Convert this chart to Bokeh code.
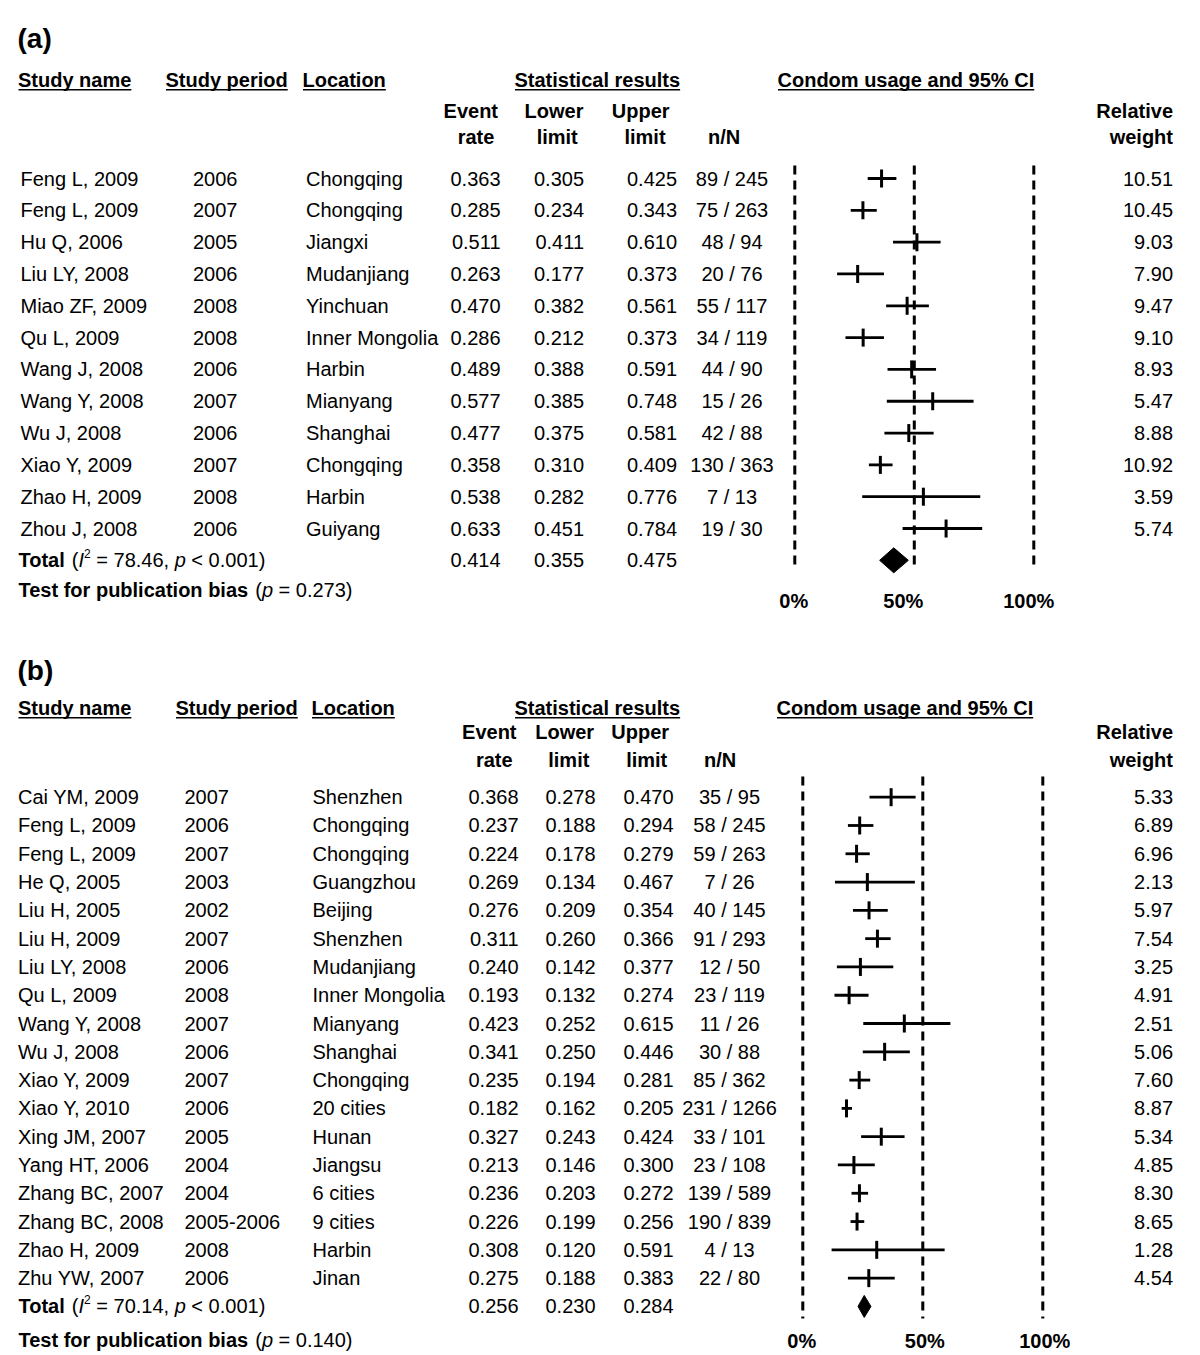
from bokeh.plotting import figure
from bokeh.models import Range1d, ColumnDataSource
from bokeh.embed import file_html
from bokeh.resources import INLINE
from bokeh.core.properties import value

# ---------------- data: panel (a) ----------------
a_names = ["Feng L, 2009", "Feng L, 2009", "Hu Q, 2006", "Liu LY, 2008", "Miao ZF, 2009",
           "Qu L, 2009", "Wang J, 2008", "Wang Y, 2008", "Wu J, 2008", "Xiao Y, 2009",
           "Zhao H, 2009", "Zhou J, 2008"]
a_period = ["2006", "2007", "2005", "2006", "2008", "2008", "2006", "2007", "2006", "2007", "2008", "2006"]
a_location = ["Chongqing", "Chongqing", "Jiangxi", "Mudanjiang", "Yinchuan", "Inner Mongolia",
              "Harbin", "Mianyang", "Shanghai", "Chongqing", "Harbin", "Guiyang"]
a_rate = [0.363, 0.285, 0.511, 0.263, 0.470, 0.286, 0.489, 0.577, 0.477, 0.358, 0.538, 0.633]
a_lower = [0.305, 0.234, 0.411, 0.177, 0.382, 0.212, 0.388, 0.385, 0.375, 0.310, 0.282, 0.451]
a_upper = [0.425, 0.343, 0.610, 0.373, 0.561, 0.373, 0.591, 0.748, 0.581, 0.409, 0.776, 0.784]
a_n = [89, 75, 48, 20, 55, 34, 44, 15, 42, 130, 7, 19]
a_N = [245, 263, 94, 76, 117, 119, 90, 26, 88, 363, 13, 30]
a_weight = [10.51, 10.45, 9.03, 7.90, 9.47, 9.10, 8.93, 5.47, 8.88, 10.92, 3.59, 5.74]
a_total = [0.414, 0.355, 0.475]
a_i2 = "78.46"
a_total_p = "< 0.001"
a_bias_p = "0.273"

# ---------------- data: panel (b) ----------------
b_names = ["Cai YM, 2009", "Feng L, 2009", "Feng L, 2009", "He Q, 2005", "Liu H, 2005", "Liu H, 2009",
           "Liu LY, 2008", "Qu L, 2009", "Wang Y, 2008", "Wu J, 2008", "Xiao Y, 2009", "Xiao Y, 2010",
           "Xing JM, 2007", "Yang HT, 2006", "Zhang BC, 2007", "Zhang BC, 2008", "Zhao H, 2009", "Zhu YW, 2007"]
b_period = ["2007", "2006", "2007", "2003", "2002", "2007", "2006", "2008", "2007", "2006", "2007", "2006",
            "2005", "2004", "2004", "2005-2006", "2008", "2006"]
b_location = ["Shenzhen", "Chongqing", "Chongqing", "Guangzhou", "Beijing", "Shenzhen", "Mudanjiang",
              "Inner Mongolia", "Mianyang", "Shanghai", "Chongqing", "20 cities", "Hunan", "Jiangsu",
              "6 cities", "9 cities", "Harbin", "Jinan"]
b_rate = [0.368, 0.237, 0.224, 0.269, 0.276, 0.311, 0.240, 0.193, 0.423, 0.341, 0.235, 0.182,
          0.327, 0.213, 0.236, 0.226, 0.308, 0.275]
b_lower = [0.278, 0.188, 0.178, 0.134, 0.209, 0.260, 0.142, 0.132, 0.252, 0.250, 0.194, 0.162,
           0.243, 0.146, 0.203, 0.199, 0.120, 0.188]
b_upper = [0.470, 0.294, 0.279, 0.467, 0.354, 0.366, 0.377, 0.274, 0.615, 0.446, 0.281, 0.205,
           0.424, 0.300, 0.272, 0.256, 0.591, 0.383]
b_n = [35, 58, 59, 7, 40, 91, 12, 23, 11, 30, 85, 231, 33, 23, 139, 190, 4, 22]
b_N = [95, 245, 263, 26, 145, 293, 50, 119, 26, 88, 362, 1266, 101, 108, 589, 839, 13, 80]
b_weight = [5.33, 6.89, 6.96, 2.13, 5.97, 7.54, 3.25, 4.91, 2.51, 5.06, 7.60, 8.87, 5.34, 4.85,
            8.30, 8.65, 1.28, 4.54]
b_total = [0.256, 0.230, 0.284]
b_i2 = "70.14"
b_total_p = "< 0.001"
b_bias_p = "0.140"

ref_ticks = [0.0, 0.5, 1.0]

# ---------------- helpers ----------------
FONT = "Liberation Sans"
W_REG = {' ': 278, '(': 333, ')': 333, ',': 278, '.': 278, '=': 584, '<': 584, 'I': 278, 'p': 556}
W_BOLD = {' ': 278, 'T': 611, 'o': 611, 't': 333, 'a': 556, 'l': 278, 'e': 556, 's': 556, 'f': 333,
          'r': 389, 'p': 611, 'u': 611, 'b': 611, 'i': 278, 'c': 556, 'n': 611, 'S': 667, 'd': 611,
          'y': 556, 'm': 889, 'L': 611, 'C': 722, 'g': 611, '%': 889, 'I': 278, 'h': 611}
for _d in "0123456789":
    W_REG[_d] = 556
    W_BOLD[_d] = 556


def twidth(s, bold, size):
    tab = W_BOLD if bold else W_REG
    return sum(tab.get(c, 556) for c in s) * size / 1000.0


W, H = 1200, 1355
p = figure(width=W, height=H, x_range=Range1d(0, W), y_range=Range1d(H, 0),
           output_backend="svg", toolbar_location=None, min_border=0,
           x_axis_location=None, y_axis_location=None)
p.outline_line_color = None
p.xgrid.visible = False
p.ygrid.visible = False
p.background_fill_color = "white"
p.border_fill_color = "white"


def pct_range(px0, px1):
    k = (px1 - px0)
    return Range1d(-px0 / k, 1 + (W - px1) / k)


p.extra_x_ranges = {"pa": pct_range(794.3, 1033.3), "pb": pct_range(802.3, 1042.3)}


def txt(x, y, s, size=20, style="normal", align="left", **kw):
    p.text(x=[x], y=[y], text=[s], text_font=value(FONT), text_font_size=f"{size}px",
           text_font_style=style, text_align=align, text_baseline="alphabetic",
           text_color="black", **kw)


def rich(x, y, parts):
    for s, style, size, dy in parts:
        bold = style == "bold"
        sw = twidth(" ", bold, size)
        lead = len(s) - len(s.lstrip(" "))
        trail = len(s) - len(s.rstrip(" "))
        core = s.strip(" ")
        x += lead * sw
        txt(x, y + dy, core, size=size, style=style)
        x += twidth(core, bold, size) + trail * sw


def panel(label, label_y, hdr_y, sub1, sub2, row0, dy, names, period, loc, rate, lo, hi,
          n, N, wt, total, i2, tp, bp, cols, rng, dash_top, dash_bot, pct_y, pct_off, tick_h, dia_h):
    txt(cols["label"], label_y, label, size=28, style="bold")
    # underlined headers
    for key, s in [("name_h", "Study name"), ("per_h", "Study period"), ("loc_h", "Location"),
                   ("stat_h", "Statistical results"), ("ci_h", "Condom usage and 95% CI")]:
        x0 = cols[key]
        txt(x0, hdr_y, s, style="bold")
        p.segment(x0=[x0 + 0.5], x1=[x0 + twidth(s, True, 20)], y0=[hdr_y + 10.3], y1=[hdr_y + 10.3],
                  line_color="black", line_width=1.6)
    for s, cx, yb in cols["sub"]:
        txt(cx, sub1 if yb == 1 else sub2, s, style="bold", align="center")
    txt(1172.5, sub1, "Relative", style="bold", align="right")
    txt(1172.5, sub2, "weight", style="bold", align="right")

    ys = [row0 + i * dy for i in range(len(names))]
    src = ColumnDataSource(dict(
        y=ys, name=names, period=period, loc=loc,
        rate=[f"{v:.3f}" for v in rate], lo=[f"{v:.3f}" for v in lo], hi=[f"{v:.3f}" for v in hi],
        nN=[f"{a} / {b}" for a, b in zip(n, N)], wt=[f"{v:.2f}" for v in wt]))
    common = dict(y="y", source=src, text_font=value(FONT), text_font_size="20px",
                  text_baseline="alphabetic", text_color="black")
    p.text(x=cols["name"], text="name", text_align="left", **common)
    p.text(x=cols["per"], text="period", text_align="left", **common)
    p.text(x=cols["loc"], text="loc", text_align="left", **common)
    p.text(x=cols["ev"], text="rate", text_align="right", **common)
    p.text(x=cols["lo"], text="lo", text_align="right", **common)
    p.text(x=cols["hi"], text="hi", text_align="right", **common)
    p.text(x=cols["nN"], text="nN", text_align="center", **common)
    p.text(x=1172.5, text="wt", text_align="right", **common)

    # total row + bias test
    ty = row0 + len(names) * dy
    rich(cols["tot"], ty, [("Total", "bold", 20, 0), (" (", "normal", 20, 0), ("I", "italic", 20, 0),
                           ("2", "normal", 12, -7), (" = " + i2 + ", ", "normal", 20, 0),
                           ("p", "italic", 20, 0), (" " + tp + ")", "normal", 20, 0)])
    txt(cols["ev"], ty, f"{total[0]:.3f}", align="right")
    txt(cols["lo"], ty, f"{total[1]:.3f}", align="right")
    txt(cols["hi"], ty, f"{total[2]:.3f}", align="right")
    rich(cols["tot"], cols["bias_y"], [("Test for publication bias", "bold", 20, 0), (" (", "normal", 20, 0),
                                       ("p", "italic", 20, 0), (" = " + bp + ")", "normal", 20, 0)])

    # reference dashed lines
    p.segment(x0=ref_ticks, x1=ref_ticks, y0=[dash_top] * 3, y1=[dash_bot] * 3, x_range_name=rng,
              line_color="black", line_width=3, line_dash="9 6")
    # CI lines and point ticks
    p.segment(x0=lo, x1=hi, y0=ys, y1=ys, x_range_name=rng, line_color="black", line_width=2.8)
    p.segment(x0=rate, x1=rate, y0=[y - tick_h for y in ys], y1=[y + tick_h for y in ys],
              x_range_name=rng, line_color="black", line_width=3)
    # diamond
    p.patch(x=[total[1], total[0], total[2], total[0]], y=[ty, ty - dia_h, ty, ty + dia_h],
            x_range_name=rng, fill_color="black", line_color="black", line_width=1)
    # percent labels
    ps = ColumnDataSource(dict(x=ref_ticks, lab=[f"{int(round(t * 100))}%" for t in ref_ticks],
                               off=pct_off, y=[pct_y] * 3))
    p.text(x="x", y="y", text="lab", x_offset="off", source=ps, x_range_name=rng,
           text_font=value(FONT), text_font_size="20px", text_font_style="bold",
           text_align="center", text_baseline="alphabetic", text_color="black")


cols_a = dict(label=17, name_h=17.5, per_h=165, loc_h=302, stat_h=514, ci_h=777,
              sub=[("Event", 470.3, 1), ("rate", 475.5, 2), ("Lower", 553.5, 1), ("limit", 556.7, 2),
                   ("Upper", 640.2, 1), ("limit", 644.5, 2), ("n/N", 723.7, 2)],
              name=20, per=192.5, loc=305.5, ev=500, lo=583.5, hi=676.5, nN=731.5, tot=18, bias_y=589)
panel("(a)", 38.3, 79, 110.3, 136.3, 178, 31.82, a_names, a_period, a_location, a_rate, a_lower, a_upper,
      a_n, a_N, a_weight, a_total, a_i2, a_total_p, a_bias_p, cols_a, "pa", 165, 570, 600,
      [-1, -11, -5], 9, 12.5)

cols_b = dict(label=17, name_h=17.5, per_h=175, loc_h=311, stat_h=514, ci_h=776,
              sub=[("Event", 488.8, 1), ("rate", 493.8, 2), ("Lower", 564.2, 1), ("limit", 568.3, 2),
                   ("Upper", 639.7, 1), ("limit", 646.2, 2), ("n/N", 719.7, 2)],
              name=17.5, per=184, loc=312, ev=518, lo=595, hi=673, nN=729, tot=18, bias_y=1339)
panel("(b)", 670, 707, 731.3, 759, 796.7, 28.29, b_names, b_period, b_location, b_rate, b_lower, b_upper,
      b_n, b_N, b_weight, b_total, b_i2, b_total_p, b_bias_p, cols_b, "pb", 776, 1318, 1340,
      [-1, 2, 2], 9, 11)

open("out.html", "w").write(file_html(p, INLINE))
